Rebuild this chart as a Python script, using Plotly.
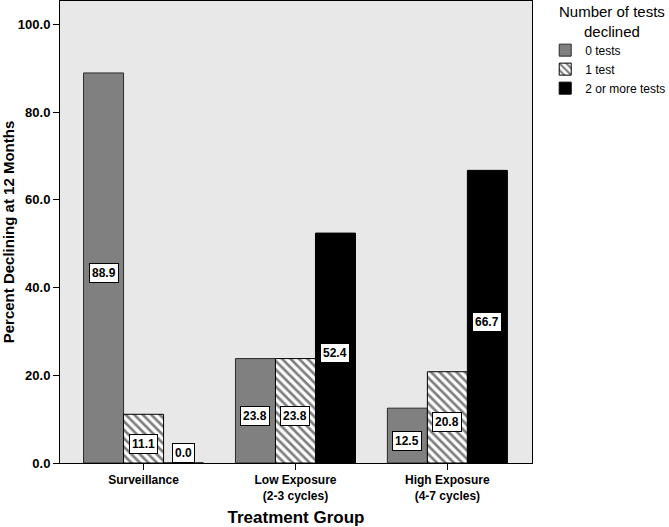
import plotly.graph_objects as go

categories = ["Surveillance", "Low Exposure<br>(2-3 cycles)", "High Exposure<br>(4-7 cycles)"]
series_names = ["0 tests", "1 test", "2 or more tests"]
vals_0 = [88.9, 23.8, 12.5]
vals_1 = [11.1, 23.8, 20.8]
vals_2 = [0.0, 52.4, 66.7]
series_vals = [vals_0, vals_1, vals_2]
legend_title = "Number of tests<br>declined"

FONT = "Liberation Sans, Arial, sans-serif"
bargap = 0.21

fig = go.Figure()
styles = [
    dict(marker=dict(color="#808080", line=dict(color="#2a2a2a", width=1))),
    dict(marker=dict(color="white", line=dict(color="black", width=1),
                     pattern=dict(shape="\\", fgcolor="black", bgcolor="white", size=6, solidity=0.45))),
    dict(marker=dict(color="black", line=dict(color="black", width=1))),
]
for name, vals, st in zip(series_names, series_vals, styles):
    fig.add_trace(go.Bar(x=categories, y=vals, name=name, **st))

w = (1 - bargap) / 3
lab_font = dict(family=FONT, size=12, color="black")
for j, vals in enumerate(series_vals):
    for i, v in enumerate(vals):
        if v == 0:
            fig.add_annotation(x=i + (j - 1) * w, y=v, text="<b>%.1f</b>" % v,
                               showarrow=True, ax=0, ay=-10, arrowhead=0, arrowwidth=0.8,
                               arrowcolor="black", font=lab_font,
                               bgcolor="white", bordercolor="black", borderwidth=1, borderpad=2,
                               xref="x", yref="y")
        else:
            fig.add_annotation(x=i + (j - 1) * w, y=v / 2, text="<b>%.1f</b>" % v,
                               showarrow=False, yshift=-5, font=lab_font,
                               bgcolor="white", bordercolor="black", borderwidth=1, borderpad=2,
                               xref="x", yref="y")

# legend title as centered text
fig.add_annotation(x=1.169, y=1.0, xref="paper", yref="paper", xanchor="center", yanchor="top",
                   text=legend_title, showarrow=False, align="center",
                   font=dict(family=FONT, size=15, color="black"))

fig.update_layout(
    width=669, height=527,
    margin=dict(l=60, r=137, t=1, b=64, autoexpand=False),
    paper_bgcolor="white",
    plot_bgcolor="#e8e8e8",
    barmode="group", bargap=bargap, bargroupgap=0,
    font=dict(family=FONT, color="black"),
    legend=dict(
        x=1.028, y=0.925, xanchor="left", yanchor="top",
        font=dict(family=FONT, size=12),
        itemwidth=30, tracegroupgap=0,
        bgcolor="rgba(0,0,0,0)",
    ),
    xaxis=dict(
        range=[-0.55, 2.557], automargin=False,
        showline=True, linecolor="black", linewidth=1, mirror=True,
        ticks="outside", ticklen=6, tickcolor="black",
        tickfont=dict(family=FONT, size=12, weight="bold"),
        title=dict(text="<b>Treatment Group</b>", font=dict(family=FONT, size=17), standoff=10),
        showgrid=False,
    ),
    yaxis=dict(
        range=[0, 105.3], automargin=False,
        dtick=20, tickformat=".1f",
        showline=True, linecolor="black", linewidth=1, mirror=True,
        ticks="outside", ticklen=6, tickcolor="black",
        tickfont=dict(family=FONT, size=13, weight="bold"),
        title=dict(text="<b>Percent Declining at 12 Months</b>", font=dict(family=FONT, size=15), standoff=6),
        showgrid=False, zeroline=False,
    ),
)

fig.write_html("out.html", config={"displayModeBar": False},
               post_script="document.body.style.margin='0';")
